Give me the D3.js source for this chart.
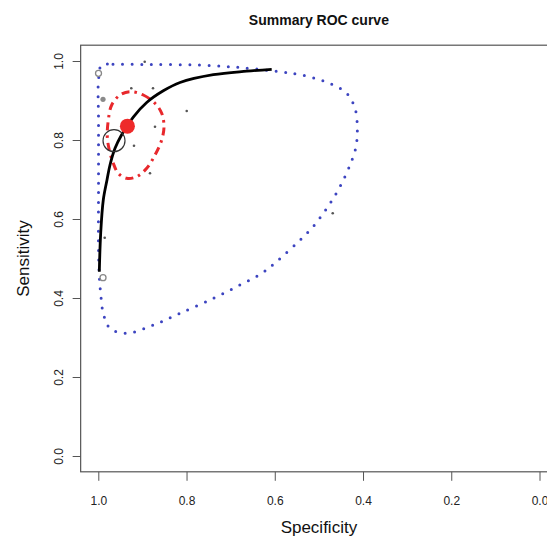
<!DOCTYPE html>
<html><head><meta charset="utf-8">
<script src="https://cdn.jsdelivr.net/npm/d3@7"></script>
<style>body{margin:0;background:#fff}svg{display:block;font-family:"Liberation Sans",Arial,Helvetica,sans-serif}</style>
</head><body><div id="chart"></div>
<script>
// ---- data (specificity, sensitivity) ----
const xTicks = [1.0, 0.8, 0.6, 0.4, 0.2, 0.0];
const yTicks = [0.0, 0.2, 0.4, 0.6, 0.8, 1.0];
const srocCurve = [[0.9977,0.4666],[0.9946,0.5638],[0.9887,0.6481],[0.9803,0.6987],[0.9735,0.7367],[0.9621,0.779],[0.9474,0.8127],[0.9343,0.8354],[0.9207,0.8582],[0.8903,0.895],[0.8527,0.9246],[0.8148,0.9456],[0.7393,0.9653],[0.6636,0.9742],[0.607,0.979]];
const confidenceRegion = [[0.9282,0.9224],[0.898,0.9139],[0.8715,0.8929],[0.8563,0.8676],[0.8511,0.8337],[0.8563,0.8],[0.8715,0.762],[0.8903,0.7284],[0.913,0.7071],[0.9356,0.703],[0.9547,0.7157],[0.966,0.741],[0.9751,0.7747],[0.9796,0.8084],[0.9773,0.8506],[0.9696,0.8886],[0.9508,0.9139]];
const predictionRegion = [[0.9923,0.9899],[0.9667,0.9916],[0.8828,0.9911],[0.777,0.9899],[0.6788,0.9835],[0.5882,0.9729],[0.5503,0.967],[0.5088,0.9562],[0.471,0.941],[0.437,0.9182],[0.4182,0.8803],[0.413,0.8337],[0.4159,0.783],[0.4295,0.7367],[0.4483,0.6904],[0.4674,0.6524],[0.49,0.6144],[0.5163,0.5765],[0.5467,0.5425],[0.592,0.4962],[0.6296,0.4625],[0.6788,0.4329],[0.7393,0.3992],[0.8148,0.3613],[0.8753,0.3316],[0.9356,0.3106],[0.9735,0.3233],[0.9887,0.3613],[0.9946,0.4119],[0.9977,0.4539],[0.9995,0.5215],[0.9995,0.6911],[0.9995,0.8506],[0.9995,0.9519]];
const summaryPoint = [0.934, 0.835];
const cutoffPoint = [0.9644, 0.7982];
const studySpec = [0.9995,0.9893,0.9252,0.876,0.7996,0.8715,0.9191,0.8828,0.9855,0.9893,0.4687,0.8948];
const studySens = [0.9689,0.903,0.9309,0.9309,0.8734,0.8337,0.7856,0.7157,0.5527,0.4514,0.6144,0.998];
const studyKind = ["open","big","s","s","s","s","s","s","s","open","s","s"];

const W = 547, H = 540;
const svg = d3.select("#chart").append("svg").attr("width", W).attr("height", H);
const x = d3.scaleLinear().domain([1, 0]).range([98.3, 539.5]);
const y = d3.scaleLinear().domain([0, 1]).range([456, 61]);
const pad = 0.04;
const bx0 = x(1 + pad), bx1 = x(0 - pad), by0 = y(1 + pad), by1 = y(0 - pad);

svg.append("text").attr("x", (bx0 + bx1) / 2).attr("y", 25).attr("text-anchor", "middle")
  .attr("font-weight", "bold").attr("font-size", 14).attr("fill", "#111").text("Summary ROC curve");

// axes
const axCol = "#555";
const xAxis = svg.append("g").attr("transform", `translate(0,${by1})`)
  .call(d3.axisBottom(x).tickValues(xTicks).tickFormat(d3.format(".1f")).tickSize(9).tickSizeOuter(0));
xAxis.select(".domain").remove();
xAxis.selectAll("line").attr("stroke", axCol);
xAxis.selectAll("text").attr("font-size", 12).attr("fill", "#222").attr("dy", "1.8em").attr("font-family", "Liberation Sans, Arial, sans-serif");

const yAxis = svg.append("g").attr("transform", `translate(${bx0},0)`)
  .call(d3.axisLeft(y).tickValues(yTicks).tickFormat(d3.format(".1f")).tickSize(8).tickSizeOuter(0));
yAxis.select(".domain").remove();
yAxis.selectAll("line").attr("stroke", axCol);
yAxis.selectAll("text").attr("font-size", 12).attr("fill", "#222")
  .attr("font-family", "Liberation Sans, Arial, sans-serif")
  .attr("text-anchor", "middle").attr("x", 0).attr("dy", 0)
  .attr("transform", "translate(-18,0) rotate(-90)");

svg.append("rect").attr("x", bx0).attr("y", by0).attr("width", bx1 - bx0).attr("height", by1 - by0)
  .attr("fill", "none").attr("stroke", axCol).attr("stroke-width", 1.2);

svg.append("text").attr("x", (bx0 + bx1) / 2).attr("y", 533).attr("text-anchor", "middle")
  .attr("font-size", 17).attr("fill", "#111").text("Specificity");
svg.append("text").attr("transform", `translate(29,${(by0 + by1) / 2}) rotate(-90)`).attr("text-anchor", "middle")
  .attr("font-size", 17).attr("fill", "#111").text("Sensitivity");

const line = d3.line().x(d => x(d[0])).y(d => y(d[1]));

// prediction region (blue dotted)
svg.append("path").datum(predictionRegion)
  .attr("d", line.curve(d3.curveCatmullRomClosed.alpha(0.5)))
  .attr("fill", "none").attr("stroke", "#3c44c0").attr("stroke-width", 3)
  .attr("stroke-linecap", "round").attr("stroke-dasharray", "0 9.6");

// confidence region (red dot-dash)
svg.append("path").datum(confidenceRegion)
  .attr("d", line.curve(d3.curveCatmullRomClosed.alpha(0.5)))
  .attr("fill", "none").attr("stroke", "#e8282c").attr("stroke-width", 3)
  .attr("stroke-dasharray", "8 5 2.5 5");

// study points
studySpec.forEach((s, i) => {
  const k = studyKind[i];
  const c = svg.append("circle").attr("cx", x(s)).attr("cy", y(studySens[i]));
  if (k === "open") c.attr("r", 3).attr("fill", "none").attr("stroke", "#888").attr("stroke-width", 1.3);
  else if (k === "big") c.attr("r", 2.6).attr("fill", "#8a8a8a");
  else c.attr("r", 1.3).attr("fill", "#555");
});

// SROC curve
svg.append("path").datum(srocCurve)
  .attr("d", line.curve(d3.curveCatmullRom.alpha(0.5)))
  .attr("fill", "none").attr("stroke", "#000").attr("stroke-width", 2.8);

// cutoff circle
svg.append("circle").attr("cx", x(cutoffPoint[0])).attr("cy", y(cutoffPoint[1])).attr("r", 11)
  .attr("fill", "none").attr("stroke", "#333").attr("stroke-width", 1.2);

// summary point
svg.append("circle").attr("cx", x(summaryPoint[0])).attr("cy", y(summaryPoint[1])).attr("r", 7.5)
  .attr("fill", "#ee2a2a");
</script></body></html>
